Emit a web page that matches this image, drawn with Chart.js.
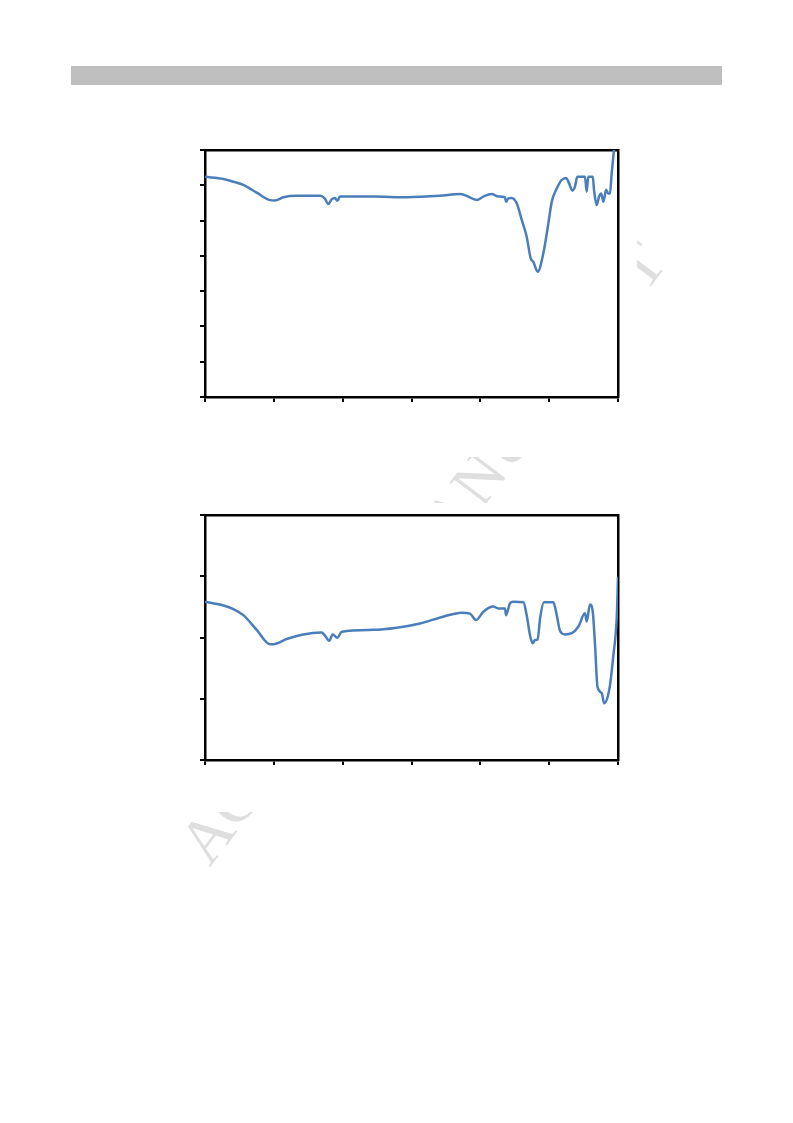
<!DOCTYPE html>
<html>
<head>
<meta charset="utf-8">
<script src="https://cdn.jsdelivr.net/npm/chart.js@4/dist/chart.umd.min.js"></script>
<style>
  html, body { margin: 0; padding: 0; background: #ffffff; }
  body { width: 793px; height: 1123px; position: relative; overflow: hidden; }
  #bar { position: absolute; left: 71px; top: 66px; width: 651px; height: 19px; background: #bfbfbf; }
  #wm { position: absolute; left: 193px; top: 823px; height: 64px; line-height: 64px;
        font-family: "Liberation Serif", "DejaVu Serif", serif; font-size: 64px; color: #dfdfdf;
        white-space: nowrap; transform-origin: 0 50%; transform: rotate(-52.8deg); z-index: 0; }
  canvas { position: absolute; background: #ffffff; z-index: 1; }
  #c1 { left: 150px; top: 120px; }
  #c2 { left: 150px; top: 503px; }
</style>
</head>
<body>
<div id="bar"></div>
<div id="wm">ACCEPTED MANUSCRIPT</div>
<canvas id="c1" width="487" height="337"></canvas>
<canvas id="c2" width="487" height="309"></canvas>
<script>
// Spectrum 1 (top chart)
const wavenumber1 = [4000, 3840, 3753, 3666, 3549, 3433, 3390, 3317, 3201, 2997, 2957, 2925, 2896, 2867, 2847, 2823,
  2533, 2242, 1952, 1778, 1719, 1632, 1574, 1501, 1443, 1385, 1376, 1356, 1327, 1283, 1239, 1196, 1161, 1138, 1100,
  1051, 1007, 978, 934, 891, 853, 827, 798, 775, 755, 688, 673, 659, 620, 609, 586, 565, 547, 527, 504, 484, 470, 455, 435];
const transmittance1 = [62.4, 61.8, 61.0, 60.1, 57.9, 55.8, 55.7, 56.6, 57.0, 57.0, 56.3, 54.7, 56.0, 56.4, 55.6, 56.8,
  56.8, 56.6, 57.0, 57.5, 57.0, 55.8, 56.8, 57.5, 56.8, 56.6, 55.3, 56.3, 56.4, 54.9, 50.2, 45.4, 39.3, 38.3, 35.5,
  40.7, 49.2, 55.3, 59.1, 61.5, 62.1, 60.6, 58.5, 59.6, 62.4, 62.4, 58.2, 62.4, 62.4, 58.7, 54.4, 56.8, 57.7, 55.3, 58.7, 57.7, 57.7, 63.4, 70];

// Spectrum 2 (bottom chart)
const wavenumber2 = [4000, 3854, 3753, 3666, 3549, 3433, 3405, 3288, 3143, 2983, 2954, 2917, 2887, 2847, 2808,
  2533, 2329, 2126, 1923, 1762, 1690, 1638, 1574, 1487, 1443, 1385, 1376, 1341, 1313, 1225, 1196, 1167, 1144, 1124, 1100,
  1079, 1045, 964, 934, 905, 862, 803, 746, 688, 673, 644, 620, 600, 579, 541, 521, 474, 440, 410, 400];
const transmittance2 = [51.7, 50.6, 49.3, 47.3, 42.5, 37.8, 37.8, 39.5, 41.0, 41.6, 40.6, 38.9, 41.0, 39.9, 41.9,
  42.5, 43.2, 44.6, 46.8, 48.1, 47.8, 45.7, 48.4, 50.1, 49.5, 49.5, 47.3, 51.2, 51.7, 51.5, 47.3, 40.8, 38.1, 39.2, 39.4,
  46.3, 51.5, 51.5, 47.3, 42.1, 41.0, 41.4, 43.5, 47.9, 45.2, 50.8, 48.4, 37.5, 23.9, 21.8, 18.5, 23.4, 34.3, 47.3, 59.8];

// Axis settings (no labels shown in the figure)
const xRange = [400, 4000];
const xStep = 600;
const yRange1 = [0, 70];
const yStep1 = 10;
const yRange2 = [0, 80];
const yStep2 = 20;

const lineColor = '#4a7ebb';

function makeChart(id, xs, ys, yRange, yStep, padTop, bottomH) {
  const data = xs.map((x, i) => ({ x: x, y: ys[i] }));
  const tickGrid = { display: true, drawOnChartArea: false, drawTicks: true, tickLength: 5, color: '#000000', lineWidth: 2 };
  const border = { display: true, color: '#000000', width: 2.5 };
  return new Chart(document.getElementById(id), {
    type: 'line',
    data: { datasets: [{ data: data, borderColor: lineColor, borderWidth: 2.5, pointRadius: 0,
      cubicInterpolationMode: 'monotone', fill: false, xAxisID: 'x', yAxisID: 'y' }] },
    options: {
      responsive: false, animation: false, devicePixelRatio: 1,
      layout: { padding: { top: padTop, right: 19, left: 0, bottom: 0 } },
      plugins: { legend: { display: false }, tooltip: { enabled: false } },
      scales: {
        x: { type: 'linear', position: 'bottom', reverse: true, min: xRange[0], max: xRange[1],
             ticks: { display: false, stepSize: xStep }, grid: tickGrid, border: border,
             afterFit: s => { s.height = bottomH; } },
        y: { type: 'linear', position: 'left', min: yRange[0], max: yRange[1],
             ticks: { display: false, stepSize: yStep }, grid: tickGrid, border: border,
             afterFit: s => { s.width = 55; } },
        xTop: { type: 'linear', position: 'top', display: true, ticks: { display: false },
             grid: { display: false, drawTicks: false }, border: border, afterFit: s => { s.height = 0; } },
        yRight: { type: 'linear', position: 'right', display: true, ticks: { display: false },
             grid: { display: false, drawTicks: false }, border: border, afterFit: s => { s.width = 0; } }
      }
    }
  });
}

makeChart('c1', wavenumber1, transmittance1, yRange1, yStep1, 30, 60);
makeChart('c2', wavenumber2, transmittance2, yRange2, yStep2, 12, 52);
</script>
</body>
</html>
